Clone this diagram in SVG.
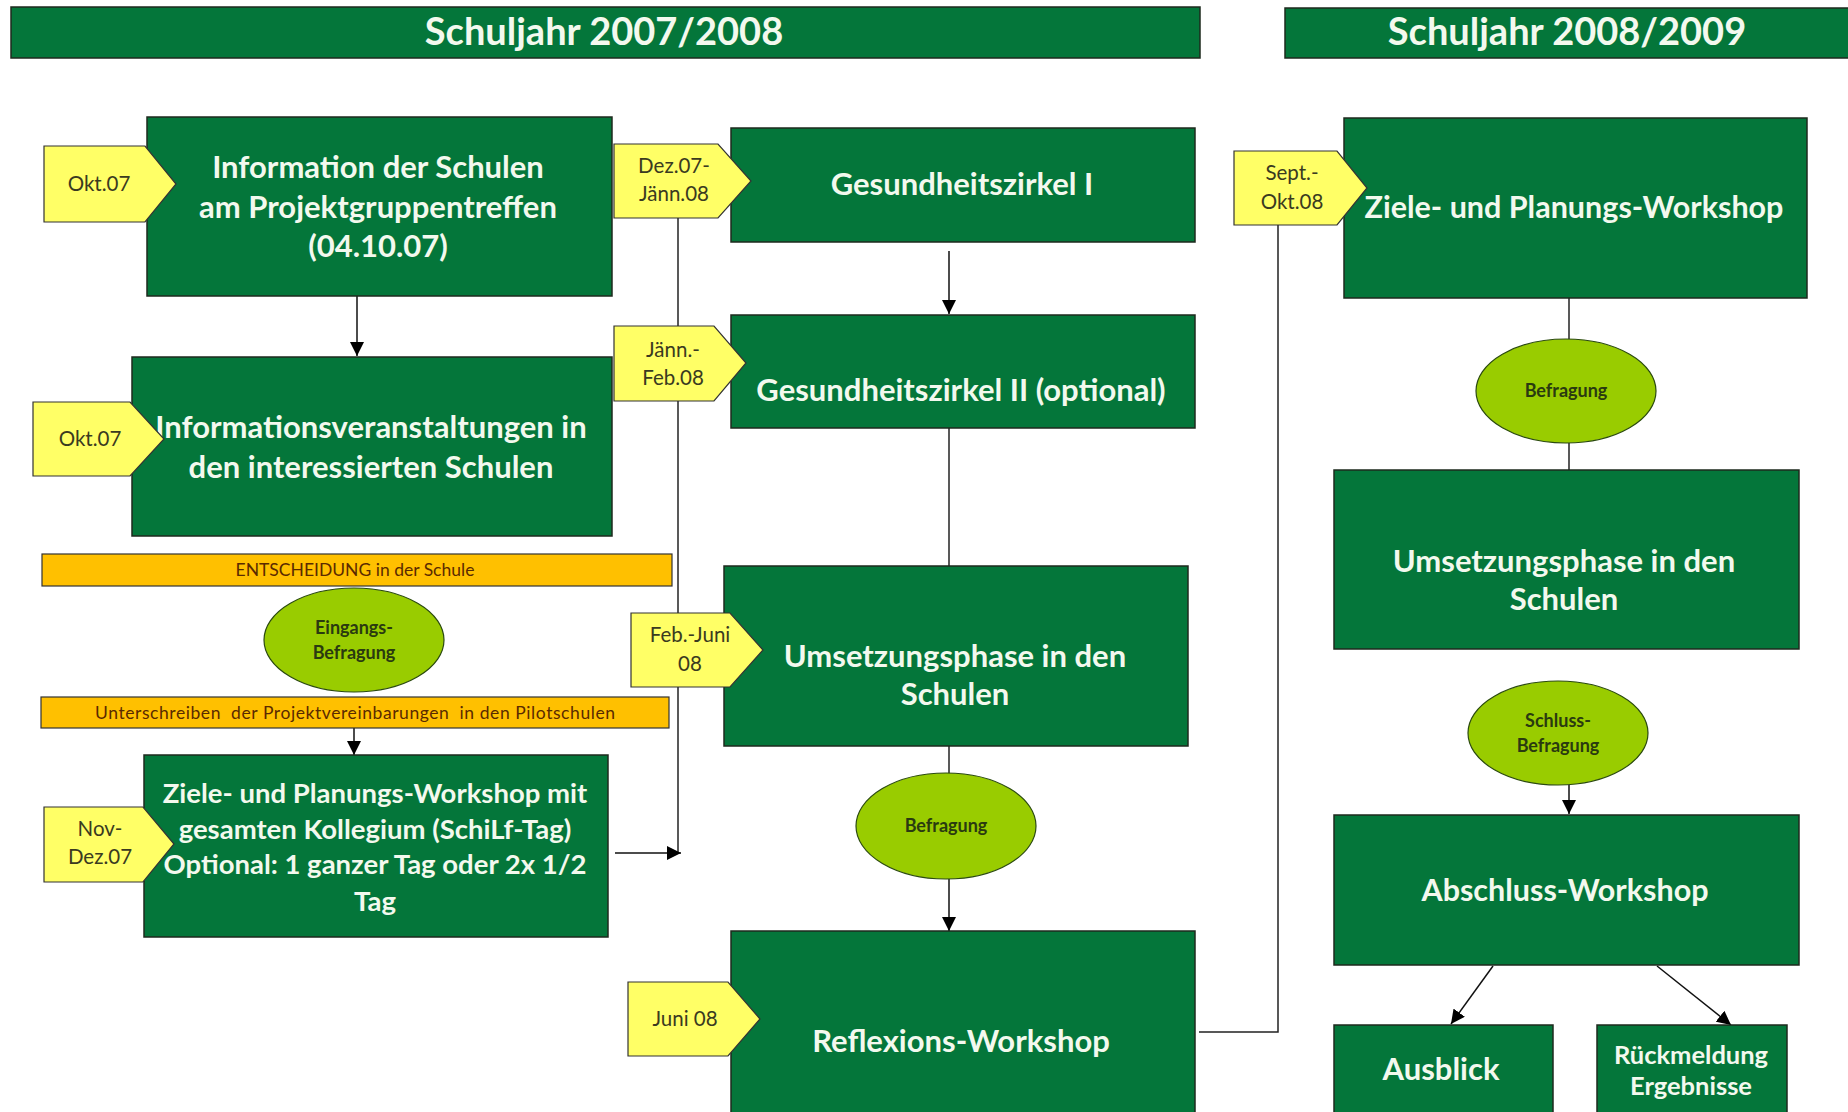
<svg xmlns="http://www.w3.org/2000/svg" width="1848" height="1112" viewBox="0 0 1848 1112">
<defs>
<marker id="arr" viewBox="0 0 10 10" refX="10" refY="5" markerWidth="14" markerHeight="14" markerUnits="userSpaceOnUse" orient="auto">
<path d="M0,0 L10,5 L0,10 z" fill="#000"/>
</marker>
<style>
.box{fill:#04763a;stroke:#1e2a1e;stroke-width:1.5}
.hdr{fill:#04763a;stroke:#1e2a1e;stroke-width:1.5}
.tag{fill:#ffff66;stroke:#333;stroke-width:1.2}
.bar{fill:#ffc000;stroke:#333;stroke-width:1.2}
.ell{fill:#99cc00;stroke:#2b4a10;stroke-width:1.2}
.bt{font-family:Lato,"Open Sans",sans-serif;font-weight:bold;fill:#f3f9ee;text-anchor:middle}
.ht{font-family:Lato,"Open Sans",sans-serif;font-weight:bold;fill:#f3f9ee;text-anchor:middle;font-size:38px}
.tt{font-family:Lato,"Open Sans",sans-serif;fill:#3a3a20;text-anchor:middle;font-size:20.5px}
.et{font-family:Lato,"Open Sans",sans-serif;font-weight:bold;fill:#2a3a10;text-anchor:middle;font-size:18px}
.rt{font-family:Lato,"Open Sans",sans-serif;fill:#5a2a00;text-anchor:middle;font-size:17.5px}
.ln{stroke:#222;stroke-width:1.5;fill:none}
.la{stroke:#111;stroke-width:1.5;fill:none;marker-end:url(#arr)}
</style>
</defs>
<rect width="1848" height="1112" fill="#fff"/>

<g id="header1"><rect class="hdr" x="11" y="7" width="1189" height="51"/><text class="ht" x="604" y="45">Schuljahr 2007/2008</text></g>
<g id="header2"><rect class="hdr" x="1285" y="8" width="570" height="50"/><text class="ht" x="1567" y="45">Schuljahr 2008/2009</text></g>

<g id="connectors">
<line class="la" x1="357" y1="296" x2="357" y2="356"/>
<line class="la" x1="354" y1="728" x2="354" y2="755"/>
<polyline class="ln" points="678,218 678,853"/>
<line class="la" x1="615" y1="853" x2="681" y2="853"/>
<line class="la" x1="949" y1="251" x2="949" y2="314"/>
<line class="ln" x1="949" y1="428" x2="949" y2="566"/>
<line class="ln" x1="949" y1="746" x2="949" y2="774"/>
<line class="la" x1="949" y1="879" x2="949" y2="931"/>
<polyline class="ln" points="1199,1032 1278,1032 1278,224"/>
<line class="ln" x1="1569" y1="298" x2="1569" y2="339"/>
<line class="ln" x1="1569" y1="443" x2="1569" y2="470"/>
<line class="la" x1="1569" y1="785" x2="1569" y2="814"/>
<line class="la" x1="1493" y1="966" x2="1451" y2="1024"/>
<line class="la" x1="1657" y1="966" x2="1731" y2="1025"/>
</g>

<g id="n-info1"><rect class="box" x="147" y="117" width="465" height="179"/>
<text class="bt" font-size="31" x="378" y="178">Information der Schulen</text>
<text class="bt" font-size="31" x="378" y="218">am Projektgruppentreffen</text>
<text class="bt" font-size="31" x="378" y="257">(04.10.07)</text></g>
<g id="t-okt1"><path class="tag" d="M44,146 H145 L176,184 L145,222 H44 Z"/><text class="tt" x="99" y="191">Okt.07</text></g>

<g id="n-info2"><rect class="box" x="132" y="357" width="480" height="179"/>
<text class="bt" font-size="31" x="371" y="438">Informationsveranstaltungen in</text>
<text class="bt" font-size="31" x="371" y="478">den interessierten Schulen</text></g>
<g id="t-okt2"><path class="tag" d="M33,402 H130 L164,439 L130,476 H33 Z"/><text class="tt" x="90" y="446">Okt.07</text></g>

<g id="n-entscheidung"><rect class="bar" x="42" y="554" width="630" height="32"/><text class="rt" x="355" y="576">ENTSCHEIDUNG in der Schule</text></g>
<g id="n-eingang"><ellipse class="ell" cx="354" cy="640" rx="90" ry="52"/><text class="et" x="354" y="634">Eingangs-</text><text class="et" x="354" y="659">Befragung</text></g>
<g id="n-unterschreiben"><rect class="bar" x="41" y="697" width="628" height="31"/><text class="rt" x="355" y="719" textLength="520" lengthAdjust="spacing" xml:space="preserve">Unterschreiben  der Projektvereinbarungen  in den Pilotschulen</text></g>

<g id="n-ziele1"><rect class="box" x="144" y="755" width="464" height="182"/>
<text class="bt" font-size="27.5" x="375" y="803">Ziele- und Planungs-Workshop mit</text>
<text class="bt" font-size="27.5" x="375" y="839">gesamten Kollegium (SchiLf-Tag)</text>
<text class="bt" font-size="27.5" x="375" y="874">Optional: 1 ganzer Tag oder 2x 1/2</text>
<text class="bt" font-size="27.5" x="375" y="911">Tag</text></g>
<g id="t-novdez"><path class="tag" d="M44,807 H143 L174,844 L143,882 H44 Z"/><text class="tt" x="100" y="836">Nov-</text><text class="tt" x="100" y="864">Dez.07</text></g>

<g id="n-gz1"><rect class="box" x="731" y="128" width="464" height="114"/><text class="bt" font-size="31" x="962" y="195">Gesundheitszirkel I</text></g>
<g id="t-dez"><path class="tag" d="M614,144 H718 L751,181 L718,218 H614 Z"/><text class="tt" x="674" y="173">Dez.07-</text><text class="tt" x="674" y="201">Jänn.08</text></g>

<g id="n-gz2"><rect class="box" x="731" y="315" width="464" height="113"/><text class="bt" font-size="31" x="961" y="401">Gesundheitszirkel II (optional)</text></g>
<g id="t-jaenn"><path class="tag" d="M614,326 H714 L746,363 L714,401 H614 Z"/><text class="tt" x="673" y="357">Jänn.-</text><text class="tt" x="673" y="385">Feb.08</text></g>

<g id="n-umsetz1"><rect class="box" x="724" y="566" width="464" height="180"/>
<text class="bt" font-size="31" x="955" y="667">Umsetzungsphase in den</text>
<text class="bt" font-size="31" x="955" y="705">Schulen</text></g>
<g id="t-febjuni"><path class="tag" d="M631,613 H730 L763,650 L730,687 H631 Z"/><text class="tt" x="690" y="642">Feb.-Juni</text><text class="tt" x="690" y="671">08</text></g>

<g id="n-befr1"><ellipse class="ell" cx="946" cy="826" rx="90" ry="53"/><text class="et" x="946" y="832">Befragung</text></g>

<g id="n-reflex"><rect class="box" x="731" y="931" width="464" height="190"/><text class="bt" font-size="31" x="961" y="1052">Reflexions-Workshop</text></g>
<g id="t-juni"><path class="tag" d="M628,982 H728 L760,1019 L728,1056 H628 Z"/><text class="tt" x="685" y="1026">Juni 08</text></g>

<g id="n-ziele2"><rect class="box" x="1344" y="118" width="463" height="180"/><text class="bt" font-size="30.5" x="1574" y="218">Ziele- und Planungs-Workshop</text></g>
<g id="t-sept"><path class="tag" d="M1234,151 H1337 L1367,188 L1337,225 H1234 Z"/><text class="tt" x="1292" y="180">Sept.-</text><text class="tt" x="1292" y="209">Okt.08</text></g>

<g id="n-befr2"><ellipse class="ell" cx="1566" cy="391" rx="90" ry="52"/><text class="et" x="1566" y="397">Befragung</text></g>

<g id="n-umsetz2"><rect class="box" x="1334" y="470" width="465" height="179"/>
<text class="bt" font-size="31" x="1564" y="572">Umsetzungsphase in den</text>
<text class="bt" font-size="31" x="1564" y="610">Schulen</text></g>

<g id="n-schluss"><ellipse class="ell" cx="1558" cy="733" rx="90" ry="52"/><text class="et" x="1558" y="727">Schluss-</text><text class="et" x="1558" y="752">Befragung</text></g>

<g id="n-abschluss"><rect class="box" x="1334" y="815" width="465" height="150"/><text class="bt" font-size="30.5" x="1565" y="901">Abschluss-Workshop</text></g>

<g id="n-ausblick"><rect class="box" x="1334" y="1025" width="219" height="95"/><text class="bt" font-size="31" x="1441" y="1080">Ausblick</text></g>
<g id="n-rueck"><rect class="box" x="1597" y="1025" width="190" height="95"/><text class="bt" font-size="25.5" x="1691" y="1064">Rückmeldung</text><text class="bt" font-size="25.5" x="1691" y="1095">Ergebnisse</text></g>
</svg>
